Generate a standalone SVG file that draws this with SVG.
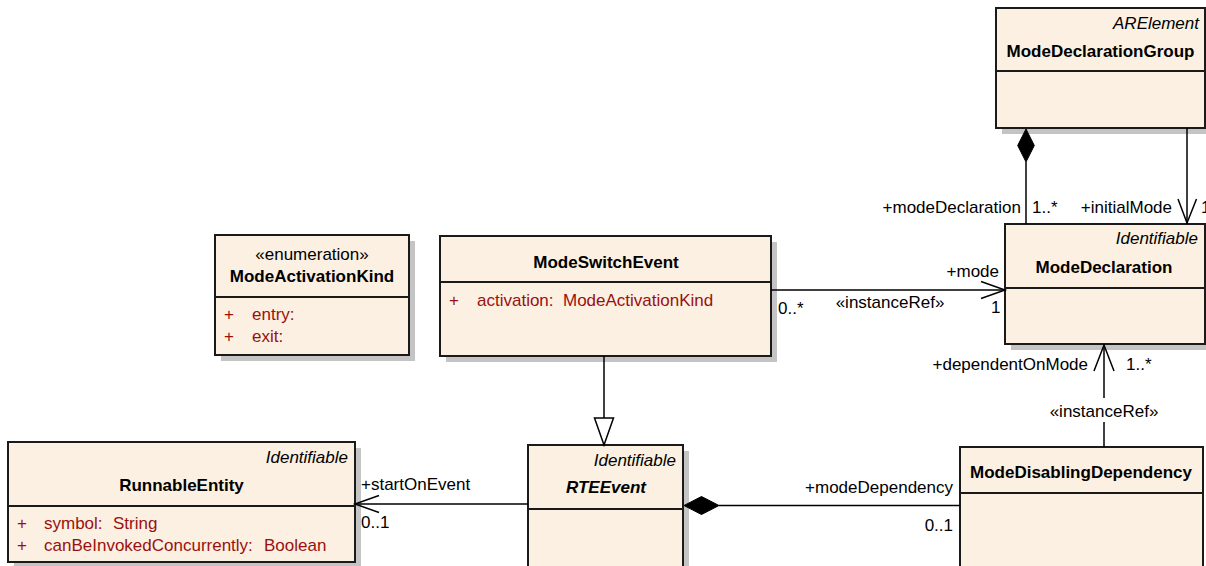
<svg xmlns="http://www.w3.org/2000/svg" width="1206" height="566" viewBox="0 0 1206 566">
<style>
text{font-family:"Liberation Sans",Arial,sans-serif;font-size:17px;fill:#000}
.box{fill:#FBF0E1;stroke:#1a1a1a;stroke-width:2}
.sh{fill:#c4c4c4}
.div{stroke:#1a1a1a;stroke-width:2}
.t{font-weight:bold;text-anchor:middle}
.st{font-style:italic;text-anchor:end}
.at{fill:#9a1010}
.ln{stroke:#000;stroke-width:1.5;fill:none}
.mid{text-anchor:middle}
.end{text-anchor:end}
</style>
<rect width="1206" height="566" fill="#fff"/>

<g id="ModeActivationKind">
<rect class="sh" x="221" y="241" width="194" height="120"/>
<rect class="box" x="215" y="235" width="194" height="120"/>
<line class="div" x1="215" y1="297" x2="409" y2="297"/>
<text class="mid" x="312" y="260">«enumeration»</text>
<text class="t" x="312" y="282">ModeActivationKind</text>
<text class="at" x="224" y="320">+</text><text class="at" x="252" y="320">entry:</text>
<text class="at" x="224" y="342">+</text><text class="at" x="252" y="342">exit:</text>
</g>

<g id="ModeSwitchEvent">
<rect class="sh" x="446" y="242" width="331" height="120"/>
<rect class="box" x="440" y="236" width="331" height="120"/>
<line class="div" x1="440" y1="282" x2="771" y2="282"/>
<text class="t" x="606" y="268">ModeSwitchEvent</text>
<text class="at" x="449" y="306">+</text><text class="at" x="477" y="306">activation:</text><text class="at" x="563" y="306">ModeActivationKind</text>
</g>

<g id="RunnableEntity">
<rect class="sh" x="14" y="448" width="347" height="120"/>
<rect class="box" x="8" y="442" width="347" height="120"/>
<line class="div" x1="8" y1="506" x2="355" y2="506"/>
<text class="st" x="348" y="463">Identifiable</text>
<text class="t" x="181.5" y="491">RunnableEntity</text>
<text class="at" x="17" y="529">+</text><text class="at" x="44" y="529">symbol:</text><text class="at" x="113" y="529">String</text>
<text class="at" x="17" y="551">+</text><text class="at" x="44" y="551">canBeInvokedConcurrently:</text><text class="at" x="264" y="551">Boolean</text>
</g>

<g id="RTEEvent">
<rect class="sh" x="534" y="451" width="155" height="130"/>
<rect class="box" x="528" y="445" width="155" height="130"/>
<line class="div" x1="528" y1="509" x2="683" y2="509"/>
<text class="st" x="676" y="466">Identifiable</text>
<text class="t" x="606" y="493" font-style="italic">RTEEvent</text>
</g>

<g id="ModeDisablingDependency">
<rect class="box" x="960" y="447" width="243" height="130"/>
<line class="div" x1="960" y1="493" x2="1203" y2="493"/>
<text class="t" x="1081" y="478">ModeDisablingDependency</text>
</g>

<g id="ModeDeclaration">
<rect class="sh" x="1011" y="230" width="200" height="120"/>
<rect class="box" x="1005" y="224" width="200" height="120"/>
<line class="div" x1="1005" y1="288" x2="1205" y2="288"/>
<text class="st" x="1198" y="244">Identifiable</text>
<text class="t" x="1104" y="273">ModeDeclaration</text>
</g>

<g id="ModeDeclarationGroup">
<rect class="sh" x="1002" y="14" width="209" height="120"/>
<rect class="box" x="996" y="8" width="209" height="120"/>
<line class="div" x1="996" y1="71" x2="1205" y2="71"/>
<text class="st" x="1199" y="29">ARElement</text>
<text class="t" x="1100.5" y="57">ModeDeclarationGroup</text>
</g>

<g id="connectors">
<!-- ModeSwitchEvent -> ModeDeclaration -->
<line class="ln" x1="771" y1="290" x2="1005" y2="290"/>
<polyline class="ln" points="981,281.5 1005,290 981,298.5"/>
<text class="end" x="999" y="277">+mode</text>
<text x="991" y="313">1</text>
<text x="778" y="314">0..*</text>
<text class="mid" x="890" y="308">«instanceRef»</text>

<!-- generalization -->
<line class="ln" x1="604" y1="356" x2="604" y2="418"/>
<polygon points="594.5,418 613.5,418 604,445" fill="#fff" stroke="#000" stroke-width="1.5"/>

<!-- RTEEvent -> RunnableEntity -->
<line class="ln" x1="528" y1="504" x2="355" y2="504"/>
<polyline class="ln" points="379,495.5 355,504 379,512.5"/>
<text x="361" y="490">+startOnEvent</text>
<text x="361" y="528">0..1</text>

<!-- composition RTEEvent - ModeDisablingDependency -->
<line class="ln" x1="719" y1="505.5" x2="960" y2="505.5"/>
<polygon points="684,505.5 701.5,496.5 719,505.5 701.5,514.5" fill="#000" stroke="#000" stroke-width="1"/>
<text class="end" x="953" y="493">+modeDependency</text>
<text class="end" x="953" y="531">0..1</text>

<!-- ModeDisablingDependency -> ModeDeclaration -->
<line class="ln" x1="1104" y1="447" x2="1104" y2="422"/>
<line class="ln" x1="1104" y1="398" x2="1104" y2="344"/>
<polyline class="ln" points="1094,371 1104,345 1114,371"/>
<text class="mid" x="1104" y="417">«instanceRef»</text>
<text class="end" x="1088" y="370">+dependentOnMode</text>
<text x="1126" y="370">1..*</text>

<!-- composition ModeDeclarationGroup - ModeDeclaration -->
<line class="ln" x1="1026" y1="162" x2="1026" y2="224"/>
<polygon points="1026,129 1034.3,145.5 1026,162 1017.7,145.5" fill="#000" stroke="#000" stroke-width="1"/>
<text class="end" x="1021" y="213">+modeDeclaration</text>
<text x="1032" y="213">1..*</text>

<!-- initialMode -->
<line class="ln" x1="1187" y1="128" x2="1187" y2="224"/>
<polyline class="ln" points="1178,199 1187,223 1196.5,199"/>
<text class="end" x="1172" y="213">+initialMode</text>
<text x="1201" y="213">1</text>
</g>
</svg>
